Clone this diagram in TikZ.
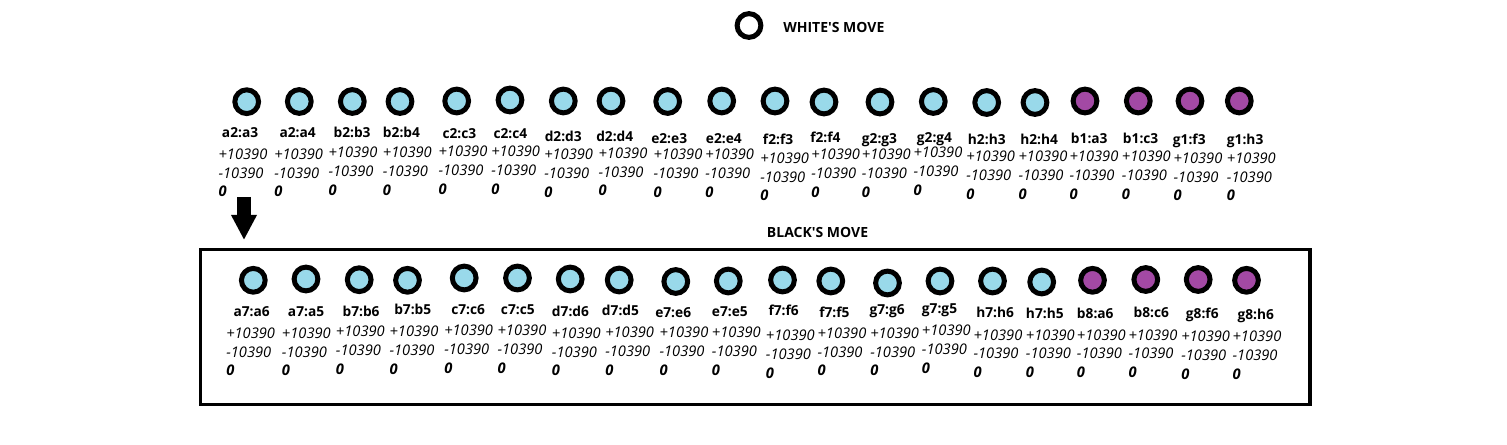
\documentclass[tikz,border=0pt]{standalone}
\usepackage{fontspec}
\setmainfont{Open Sans}
\usetikzlibrary{arrows.meta}
\definecolor{lblue}{HTML}{99D9EA}
\definecolor{lpurp}{HTML}{A349A4}
\begin{document}
\begin{tikzpicture}[x=0.75pt,y=-0.75pt,
  mv/.style={circle, draw=black, line width=3.75pt, minimum size=17.8pt, inner sep=0pt},
  lab/.style={anchor=base west, inner sep=0pt, font=\fontsize{10.3}{12}\selectfont\bfseries},
  num/.style={anchor=base west, inner sep=0pt, font=\fontsize{11}{12}\selectfont\itshape},
  zer/.style={anchor=base west, inner sep=0pt, font=\fontsize{11}{12}\selectfont\bfseries\itshape},
  hdr/.style={anchor=base west, inner sep=0pt, font=\fontsize{10.5}{12}\selectfont\bfseries},
  frame/.style={draw=black, line width=2.5pt},
  bigarrow/.style={line width=10.7pt, -{Triangle[width=18pt,length=18.75pt]}}]
\useasboundingbox (0,0) rectangle (1507,445);
\fill[white] (0,0) rectangle (1507,445);

% legend
\node[mv, fill=white] (legend) at (749,25.5) {};
\node[hdr] (whitehdr) at (783,32.3) {WHITE\textquotesingle S MOVE};

% white's moves
\foreach \i/\cx/\cy/\lx/\lb/\nx/\nb/\t/\c in {
 1/246.7/101.7/221.7/137.3/218.3/159.3/a2:a3/lblue,
 2/299.3/101.5/279.3/137.3/274/159.3/a2:a4/lblue,
 3/352.3/101.5/333.3/137.5/328.3/157.7/b2:b3/lblue,
 4/400/101.5/382.7/137.5/382.7/157.7/b2:b4/lblue,
 5/456.7/101/442.3/138.3/438.3/156.7/c2:c3/lblue,
 6/510/100/493.3/138.3/491/156.7/c2:c4/lblue,
 7/563.3/101/544.5/142/544/160/d2:d3/lblue,
 8/611/101/596/141.7/598.3/158.3/d2:d4/lblue,
 9/667.7/101.5/651/143.3/653.3/160/e2:e3/lblue,
 10/721.7/101/705.7/143.3/705/160/e2:e4/lblue,
 11/775/101/762.7/144.3/760/163.3/f2:f3/lblue,
 12/824/102/810/142.7/811/160/f2:f4/lblue,
 13/880/102/861.7/144/861.7/160/g2:g3/lblue,
 14/933.3/101.5/916.7/142.3/913.3/157.7/g2:g4/lblue,
 15/986.7/102.5/967.7/144.3/966/161.7/h2:h3/lblue,
 16/1035/102.5/1020/144.3/1018.3/161.7/h2:h4/lblue,
 17/1085/101/1070.7/143.3/1069.3/161.7/b1:a3/lpurp,
 18/1138.3/101/1122.7/143.3/1121.7/161.7/b1:c3/lpurp,
 19/1190/101/1172.7/145/1173.3/163.3/g1:f3/lpurp,
 20/1239.3/101/1226.7/145/1226.7/163.3/g1:h3/lpurp}{
  \node[mv, fill=\c] (w\i) at (\cx,\cy) {};
  \node[lab] (wl\i) at (\lx,\lb) {\t};
  \node[num] (wp\i) at (\nx,\nb) {+10390};
  \node[num] (wm\i) at (\nx,\nb+18.8) {-10390};
  \node[zer] (wz\i) at (\nx,\nb+37.5) {0};
}

% arrow
\coordinate (arrS) at (244,197);
\coordinate (arrE) at (244,240);
\draw[bigarrow] (arrS) -- (arrE);

% black's moves
\node[hdr] (blackhdr) at (766.7,237.7) {BLACK\textquotesingle S MOVE};
\draw[frame] (200.8,249.3) rectangle (1310,404.3);

\foreach \i/\cx/\cy/\lx/\lb/\nx/\nb/\t/\c in {
 1/253.3/280.3/233.3/316.7/226/338.3/a7:a6/lblue,
 2/306/279/287.7/316.7/281.7/338.3/a7:a5/lblue,
 3/359.2/279.7/342.3/316.7/335.7/336.7/b7:b6/lblue,
 4/407.5/280.3/394/315/389.3/336.7/b7:b5/lblue,
 5/464.2/278/451/314.3/444/335.7/c7:c6/lblue,
 6/517.5/278/500.7/314.3/497.3/335.7/c7:c5/lblue,
 7/570.2/279/551.7/316.7/551.7/338.3/d7:d6/lblue,
 8/619.2/280/601.7/316/605/337.7/d7:d5/lblue,
 9/675.8/281.5/655/317.7/659.3/337.7/e7:e6/lblue,
 10/728.3/281/711.7/316.7/711.7/337.7/e7:e5/lblue,
 11/782.5/280/768.3/315.7/765.7/341/f7:f6/lblue,
 12/830.8/281/819/317.3/817.3/338.3/f7:f5/lblue,
 13/887.5/283/869.3/314.3/870/338.3/g7:g6/lblue,
 14/940/281/921.7/314/921.7/336/g7:g5/lblue,
 15/992.5/281/976/317.7/973.3/340/h7:h6/lblue,
 16/1041.7/282/1025.7/318.3/1025.7/340/h7:h5/lblue,
 17/1092.5/280.3/1076.7/318.3/1076.7/340/b8:a6/lpurp,
 18/1145.8/279.5/1133.3/317.3/1128.3/340/b8:c6/lpurp,
 19/1198.2/279.5/1185.7/318.3/1181/341.7/g8:f6/lpurp,
 20/1246.5/280.3/1237.3/320/1232.3/341.7/g8:h6/lpurp}{
  \node[mv, fill=\c] (b\i) at (\cx,\cy) {};
  \node[lab] (bl\i) at (\lx,\lb) {\t};
  \node[num] (bp\i) at (\nx,\nb) {+10390};
  \node[num] (bm\i) at (\nx,\nb+18.8) {-10390};
  \node[zer] (bz\i) at (\nx,\nb+37.5) {0};
}
\end{tikzpicture}
\end{document}
